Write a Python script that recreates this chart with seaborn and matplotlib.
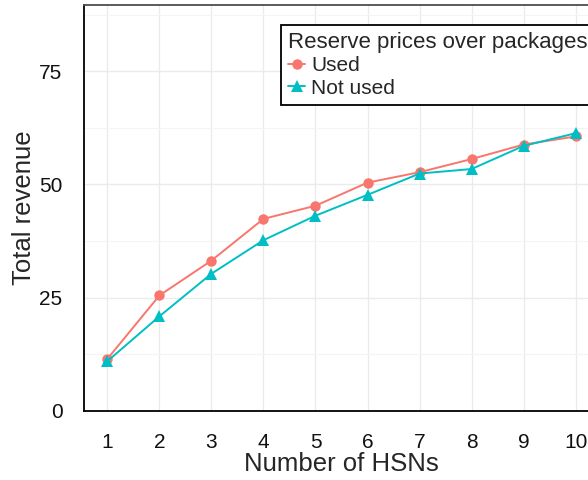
import numpy as np
import pandas as pd
import matplotlib
matplotlib.use("Agg")
import matplotlib.pyplot as plt
import seaborn as sns

hsns = [1, 2, 3, 4, 5, 6, 7, 8, 9, 10]
used = [11.5, 25.5, 33.2, 42.4, 45.3, 50.4, 52.7, 55.6, 58.8, 60.6]
not_used = [11.0, 20.9, 30.3, 37.7, 43.1, 47.7, 52.4, 53.4, 58.5, 61.3]
groups = ["Used", "Not used"]
y_ticks = [0, 25, 50, 75]

df = pd.DataFrame({
    "hsn": hsns * 2,
    "revenue": used + not_used,
    "group": [groups[0]] * len(hsns) + [groups[1]] * len(hsns),
})

sns.set_theme(style="white")
plt.rcParams["font.family"] = ["Liberation Sans", "DejaVu Sans"]

W, H = 588, 480
fig = plt.figure(figsize=(W / 100, H / 100), dpi=100)
left, right, top, bottom = 84, 599, 5, 411
ax = fig.add_axes([left / W, 1 - bottom / H, (right - left) / W, (bottom - top) / H])

palette = {"Used": "#F8766D", "Not used": "#00BFC4"}
sns.lineplot(data=df, x="hsn", y="revenue", hue="group", style="group",
             hue_order=groups, style_order=groups,
             markers={"Used": "o", "Not used": "^"}, dashes=False,
             palette=palette, linewidth=1.4, markersize=7.5,
             markeredgewidth=0, ax=ax)
for line in ax.get_lines():
    if line.get_marker() == "^":
        line.set_markersize(9)

ax.set_xlim(0.55, 10.45)
ax.set_ylim(0, 89.6)
ax.set_xticks(hsns)
ax.set_yticks(y_ticks)
ax.set_yticks([12.5, 37.5, 62.5, 87.5], minor=True)
ax.grid(True, which="major", color="#ebebeb", linewidth=1.0)
ax.grid(True, which="minor", axis="y", color="#f4f4f4", linewidth=0.8)
ax.set_axisbelow(True)
ax.tick_params(axis="both", which="both", length=0, labelsize=15, pad=15.5,
               labelcolor="#111111")

for s in ["left", "bottom"]:
    ax.spines[s].set_color("black")
    ax.spines[s].set_linewidth(1.3)
ax.spines["top"].set_color("#4d4d4d")
ax.spines["top"].set_linewidth(1.3)
ax.spines["right"].set_color("#4d4d4d")

ax.set_xlabel("Number of HSNs", fontsize=18.5, labelpad=0)
ax.set_ylabel("Total revenue", fontsize=18.5, labelpad=2)

handles, labels = ax.get_legend_handles_labels()
leg = ax.legend(handles, labels, title="Reserve prices over packages",
                loc="upper left", bbox_to_anchor=(281 / W, 1 - 25 / H),
                bbox_transform=fig.transFigure, fontsize=15,
                title_fontsize=16, frameon=True, fancybox=False,
                handlelength=0.8, handletextpad=0.3, labelspacing=0.15,
                borderpad=0.35, borderaxespad=0)
leg._legend_box.align = "left"
frame = leg.get_frame()
frame.set_edgecolor("black")
frame.set_linewidth(1.3)
frame.set_facecolor("white")
frame.set_alpha(1)

fig.savefig("out.png", dpi=100)
